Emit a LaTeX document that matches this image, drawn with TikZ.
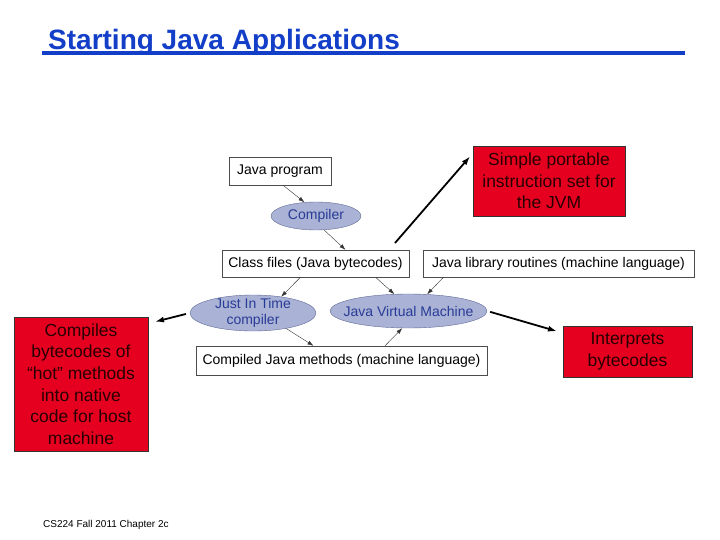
\documentclass[tikz,border=0pt]{standalone}
\usepackage{fontspec}
\setmainfont{Liberation Sans}
\usetikzlibrary{shapes.geometric,arrows.meta}

\definecolor{titleblue}{RGB}{18,62,200}
\definecolor{notered}{RGB}{230,0,32}
\definecolor{notetext}{RGB}{40,0,0}
\definecolor{procfill}{RGB}{170,178,214}
\definecolor{procline}{RGB}{95,105,150}
\definecolor{proctext}{RGB}{40,60,150}

\tikzset{
  jbox/.style={draw=black!70,fill=white,inner sep=0pt,font=\fontsize{14}{16}\selectfont},
  jproc/.style={ellipse,draw=procline,fill=procfill,inner sep=-2pt,text=proctext,align=center,
    font=\fontsize{14}{16}\selectfont},
  note/.style={draw=black!80,fill=notered,inner sep=0pt,text=notetext,align=center,
    font=\fontsize{17.5}{21.6}\selectfont},
  flow/.style={-{Latex[length=6pt,width=4pt]},black!80,thin},
  point/.style={-{Latex[length=9pt,width=6pt]},black,line width=1.8pt}
}

\begin{document}
\begin{tikzpicture}[x=1pt,y=-1pt]
  \useasboundingbox (0,0) rectangle (720,540);

  % title
  \node [anchor=base west,inner sep=0pt,text=titleblue,font=\bfseries\fontsize{28}{30}\selectfont] (title) at (48,50) {Starting Java Applications};
  \fill [titleblue] (42,51.5) rectangle (685,55.5);

  % boxes and processes
  \node [jbox,minimum width=102,minimum height=28] (prog) at (280,171) {Java program};
  \node [jproc,minimum width=90,minimum height=28] (comp) at (316,216) {Compiler};
  \node [jbox,minimum width=187,minimum height=27] (cls) at (315.5,263.5) {Class files (Java bytecodes)};
  \node [jbox,minimum width=271,minimum height=27] (lib) at (558.5,263.5) {Java library routines (machine language)};
  \node [jproc,inner ysep=-4pt,minimum width=126,minimum height=36] (jit) at (253,313) {Just In Time\\compiler};
  \node [jproc,inner xsep=-10pt,minimum width=157,minimum height=34] (jvm) at (408.5,311) {Java Virtual Machine};
  \node [jbox,minimum width=291,minimum height=29] (cjm) at (341.5,360.5) {Compiled Java methods (machine language)};

  % flow arrows
  \draw [flow] ([xshift=3pt]prog.south) -- (comp.130);
  \draw [flow] (comp.-60) -- ([xshift=30pt]cls.north);
  \draw [flow] ([xshift=-15pt]cls.south) -- (jit.30);
  \draw [flow] ([xshift=60pt]cls.south) -- (jvm.130);
  \draw [flow] ([xshift=-115pt]lib.south) -- (jvm.42);
  \draw [flow] (jit.-25) -- ([xshift=-28pt]cjm.north);
  \draw [flow] ([xshift=43.5pt]cjm.north) -- (jvm.-110);

  % notes
  \node [note,minimum width=152,minimum height=70] (isa) at (549,181) {Simple portable\\instruction set for\\the JVM};
  \node [note,minimum width=134,minimum height=134] (hot) at (81,384) {Compiles\\bytecodes of\\“hot” methods\\into native\\code for host\\machine};
  \node [note,minimum width=129,minimum height=51] (interp) at (627.5,351.5) {Interprets\\bytecodes};

  % pointers to the notes
  \coordinate (clsref) at (395,243);
  \draw [point,shorten >=4pt] (clsref) -- (isa.160);
  \draw [point,shorten <=4pt,shorten >=7pt] (jit.west) -- (hot.42);
  \draw [point,shorten <=3pt,shorten >=6pt] (jvm.east) -- (interp.164);

  % footer
  \node [anchor=base west,inner sep=0pt,font=\fontsize{10}{12}\selectfont] (foot) at (43,527) {CS224 Fall 2011 Chapter 2c};

\end{tikzpicture}
\end{document}
